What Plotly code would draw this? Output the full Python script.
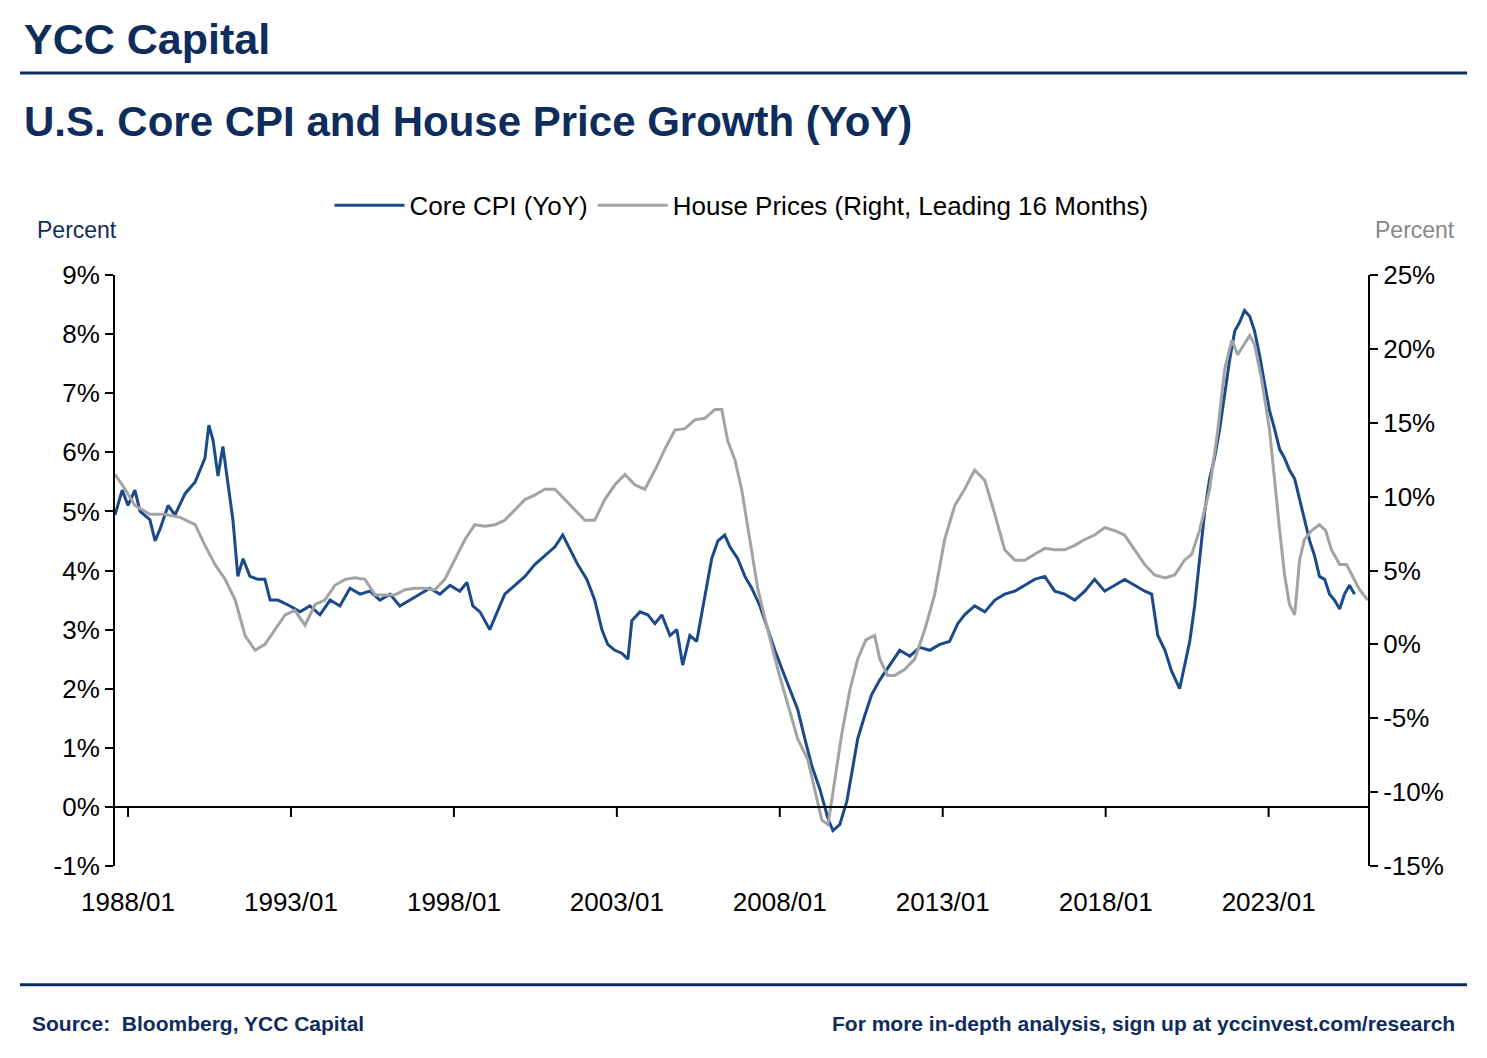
import plotly.graph_objects as go

cpi_year = [1987.60,1987.82,1988.00,1988.21,1988.37,1988.67,1988.83,1988.98,1989.23,1989.44,1989.75,1990.06,1990.36,1990.48,1990.61,1990.76,1990.91,1991.07,1991.22,1991.37,1991.53,1991.74,1991.99,1992.20,1992.36,1992.60,1992.97,1993.28,1993.58,1993.89,1994.20,1994.50,1994.81,1995.12,1995.42,1995.73,1996.04,1996.34,1996.65,1996.96,1997.26,1997.57,1997.88,1998.18,1998.40,1998.58,1998.80,1999.10,1999.32,1999.56,1999.87,2000.18,2000.48,2000.79,2001.10,2001.34,2001.56,2001.80,2002.08,2002.32,2002.54,2002.72,2002.94,2003.15,2003.34,2003.46,2003.71,2003.95,2004.17,2004.38,2004.63,2004.84,2005.02,2005.24,2005.45,2005.70,2005.91,2006.10,2006.31,2006.47,2006.71,2006.93,2007.14,2007.39,2007.63,2007.85,2008.09,2008.31,2008.55,2008.77,2008.98,2009.23,2009.48,2009.63,2009.84,2010.06,2010.21,2010.39,2010.61,2010.82,2011.07,2011.37,2011.68,2011.99,2012.29,2012.60,2012.91,2013.21,2013.46,2013.67,2013.98,2014.29,2014.60,2014.90,2015.21,2015.52,2015.82,2016.13,2016.44,2016.74,2017.05,2017.36,2017.66,2017.97,2018.28,2018.58,2018.89,2019.20,2019.41,2019.60,2019.82,2020.02,2020.27,2020.42,2020.58,2020.73,2020.88,2021.04,2021.19,2021.34,2021.50,2021.65,2021.80,2021.96,2022.11,2022.26,2022.42,2022.57,2022.72,2022.88,2023.03,2023.18,2023.34,2023.49,2023.64,2023.80,2023.95,2024.10,2024.26,2024.41,2024.56,2024.72,2024.87,2025.02,2025.18,2025.33,2025.48,2025.64]
cpi_value = [4.94,5.36,5.1,5.36,5.0,4.86,4.5,4.7,5.1,4.94,5.3,5.5,5.9,6.46,6.2,5.6,6.1,5.5,4.85,3.9,4.2,3.9,3.85,3.85,3.5,3.5,3.4,3.3,3.4,3.25,3.5,3.4,3.7,3.6,3.65,3.5,3.6,3.4,3.5,3.6,3.7,3.6,3.75,3.65,3.8,3.4,3.3,3.0,3.3,3.6,3.75,3.9,4.1,4.25,4.4,4.6,4.35,4.1,3.85,3.5,3.0,2.75,2.65,2.6,2.5,3.15,3.3,3.25,3.1,3.25,2.9,3.0,2.4,2.9,2.8,3.6,4.2,4.5,4.6,4.4,4.2,3.9,3.7,3.4,3.0,2.65,2.3,2.0,1.65,1.15,0.7,0.3,-0.2,-0.4,-0.3,0.1,0.6,1.15,1.55,1.9,2.15,2.4,2.65,2.55,2.7,2.65,2.75,2.8,3.1,3.25,3.4,3.3,3.5,3.6,3.65,3.75,3.85,3.9,3.65,3.6,3.5,3.65,3.85,3.65,3.75,3.85,3.75,3.65,3.6,2.9,2.65,2.3,2.0,2.4,2.8,3.4,4.2,5.0,5.55,5.9,6.4,7.0,7.55,8.05,8.2,8.4,8.3,8.05,7.65,7.15,6.7,6.4,6.05,5.9,5.7,5.55,5.2,4.85,4.5,4.25,3.9,3.85,3.6,3.5,3.35,3.6,3.75,3.6]

hp_year = [1987.60,1987.91,1988.21,1988.67,1989.13,1989.60,1990.06,1990.36,1990.67,1990.98,1991.29,1991.59,1991.90,1992.20,1992.51,1992.82,1993.12,1993.43,1993.74,1994.04,1994.35,1994.66,1994.96,1995.27,1995.58,1995.88,1996.19,1996.50,1996.80,1997.11,1997.42,1997.72,1998.03,1998.34,1998.64,1998.95,1999.26,1999.56,1999.87,2000.18,2000.48,2000.79,2001.10,2001.40,2001.71,2002.02,2002.32,2002.63,2002.94,2003.25,2003.55,2003.86,2004.17,2004.47,2004.78,2005.09,2005.39,2005.70,2006.01,2006.22,2006.40,2006.62,2006.83,2007.08,2007.33,2007.63,2007.94,2008.25,2008.55,2008.86,2009.07,2009.29,2009.48,2009.69,2009.90,2010.15,2010.39,2010.64,2010.91,2011.07,2011.31,2011.53,2011.83,2012.14,2012.45,2012.75,2013.06,2013.37,2013.67,2013.98,2014.29,2014.60,2014.90,2015.21,2015.52,2015.82,2016.13,2016.44,2016.74,2017.05,2017.36,2017.66,2017.97,2018.28,2018.58,2018.89,2019.20,2019.50,2019.82,2020.12,2020.42,2020.64,2020.88,2021.19,2021.44,2021.65,2021.87,2022.05,2022.26,2022.42,2022.57,2022.79,2023.03,2023.18,2023.34,2023.49,2023.64,2023.80,2023.95,2024.10,2024.32,2024.56,2024.75,2024.93,2025.18,2025.39,2025.55,2025.79,2026.04]
hp_value = [11.5,10.5,9.4,8.8,8.8,8.6,8.1,6.7,5.4,4.4,3.0,0.6,-0.4,0.0,1.0,2.0,2.3,1.3,2.7,3.0,4.0,4.4,4.5,4.4,3.35,3.35,3.35,3.7,3.8,3.8,3.7,4.4,5.7,7.1,8.1,8.0,8.1,8.4,9.1,9.8,10.1,10.5,10.5,9.8,9.1,8.4,8.4,9.8,10.8,11.5,10.8,10.5,11.8,13.2,14.5,14.6,15.2,15.3,15.9,15.9,13.8,12.5,10.5,7.1,3.7,1.0,-1.7,-4.1,-6.4,-7.8,-9.8,-11.9,-12.2,-9.2,-6.1,-3.1,-1.0,0.3,0.6,-1.0,-2.1,-2.1,-1.7,-1.0,1.0,3.35,7.1,9.4,10.5,11.8,11.1,8.8,6.4,5.7,5.7,6.1,6.5,6.4,6.4,6.7,7.1,7.4,7.9,7.7,7.4,6.4,5.4,4.7,4.5,4.7,5.7,6.1,7.7,10.5,14.5,18.6,20.6,19.6,20.3,20.9,20.3,17.9,14.5,11.1,7.7,4.7,2.7,2.0,5.7,7.1,7.7,8.1,7.7,6.4,5.4,5.4,4.7,3.7,3.0]

tick_years = [1988, 1993, 1998, 2003, 2008, 2013, 2018, 2023]
tick_labels = ["1988/01", "1993/01", "1998/01", "2003/01", "2008/01", "2013/01", "2018/01", "2023/01"]
left_ticks = [-1, 0, 1, 2, 3, 4, 5, 6, 7, 8, 9]
right_ticks = [-15, -10, -5, 0, 5, 10, 15, 20, 25]

NAVY = "#0F2D5C"
BLUE = "#1A4A8A"
GRAY = "#A3A3A3"
FONT = "Liberation Sans Narrow, Liberation Sans, Arial"

fig = go.Figure()
fig.add_trace(go.Scatter(x=hp_year, y=hp_value, mode="lines", yaxis="y2",
                         name="House Prices (Right, Leading 16 Months)",
                         line=dict(color=GRAY, width=3)))
fig.add_trace(go.Scatter(x=cpi_year, y=cpi_value, mode="lines", name="Core CPI (YoY)",
                         line=dict(color=BLUE, width=3)))

shapes = [dict(type="line", xref="paper", yref="y", x0=0, x1=1, y0=0, y1=0,
               line=dict(color="black", width=2))]
for t in tick_years:
    shapes.append(dict(type="line", xref="x", yref="y", x0=t, x1=t, y0=0, y1=-0.17,
                       line=dict(color="black", width=2)))
shapes.append(dict(type="line", xref="paper", yref="paper", x0=-0.0758, x1=1.079,
                   y0=1.342, y1=1.342, line=dict(color=NAVY, width=3)))
shapes.append(dict(type="line", xref="paper", yref="paper", x0=-0.0758, x1=1.079,
                   y0=-0.201, y1=-0.201, line=dict(color=NAVY, width=3)))

ann = [
    dict(text="<b>YCC Capital</b>", x=-0.074, y=1.40, xref="paper", yref="paper",
         xanchor="left", yanchor="middle", showarrow=False,
         font=dict(size=43, color=NAVY, family="Liberation Sans, Arial")),
    dict(text="<b>U.S. Core CPI and House Price Growth (YoY)</b>", x=-0.074, y=1.259,
         xref="paper", yref="paper", xanchor="left", yanchor="middle", showarrow=False,
         font=dict(size=42, color=NAVY, family="Liberation Sans, Arial")),
    dict(text="Percent", x=-0.064, y=1.076, xref="paper", yref="paper", xanchor="left",
         yanchor="middle", showarrow=False, font=dict(size=23, color=NAVY, family=FONT)),
    dict(text="Percent", x=1.071, y=1.076, xref="paper", yref="paper", xanchor="right",
         yanchor="middle", showarrow=False, font=dict(size=23, color="#888888", family=FONT)),
    dict(text="<b>Source:  Bloomberg, YCC Capital</b>", x=-0.068, y=-0.266, xref="paper",
         yref="paper", xanchor="left", yanchor="middle", showarrow=False,
         font=dict(size=21, color=NAVY, family="Liberation Sans, Arial")),
    dict(text="<b>For more in-depth analysis, sign up at yccinvest.com/research</b>", x=1.071,
         y=-0.266, xref="paper", yref="paper", xanchor="right", yanchor="middle",
         showarrow=False, font=dict(size=21, color=NAVY, family="Liberation Sans, Arial")),
]

fig.update_layout(
    width=1487, height=1058, paper_bgcolor="white", plot_bgcolor="white",
    margin=dict(l=107, r=127, t=267, b=200),
    font=dict(family=FONT, size=26, color="black"),
    showlegend=True,
    legend=dict(orientation="h", x=0.5, xanchor="center", y=1.118, yanchor="middle",
                traceorder="reversed", font=dict(size=26, family=FONT), itemwidth=70),
    xaxis=dict(range=[1987.6, 2026.05], tickvals=tick_years, ticktext=tick_labels,
               showgrid=False, zeroline=False, showline=False, ticks="", ticklabelstandoff=18),
    yaxis=dict(range=[-1, 9], tickvals=left_ticks, ticktext=[f"{v}%" for v in left_ticks],
               showgrid=False, zeroline=False, showline=True, linecolor="black", linewidth=2,
               ticks="outside", ticklen=8, tickwidth=2, tickcolor="black"),
    yaxis2=dict(range=[-15, 25], tickvals=right_ticks, ticktext=[f"{v}%" for v in right_ticks],
                overlaying="y", side="right", showgrid=False, zeroline=False, showline=True,
                linecolor="black", linewidth=2, ticks="outside", ticklen=8, tickwidth=2,
                tickcolor="black"),
    shapes=shapes, annotations=ann,
)
fig.write_html("out.html")
